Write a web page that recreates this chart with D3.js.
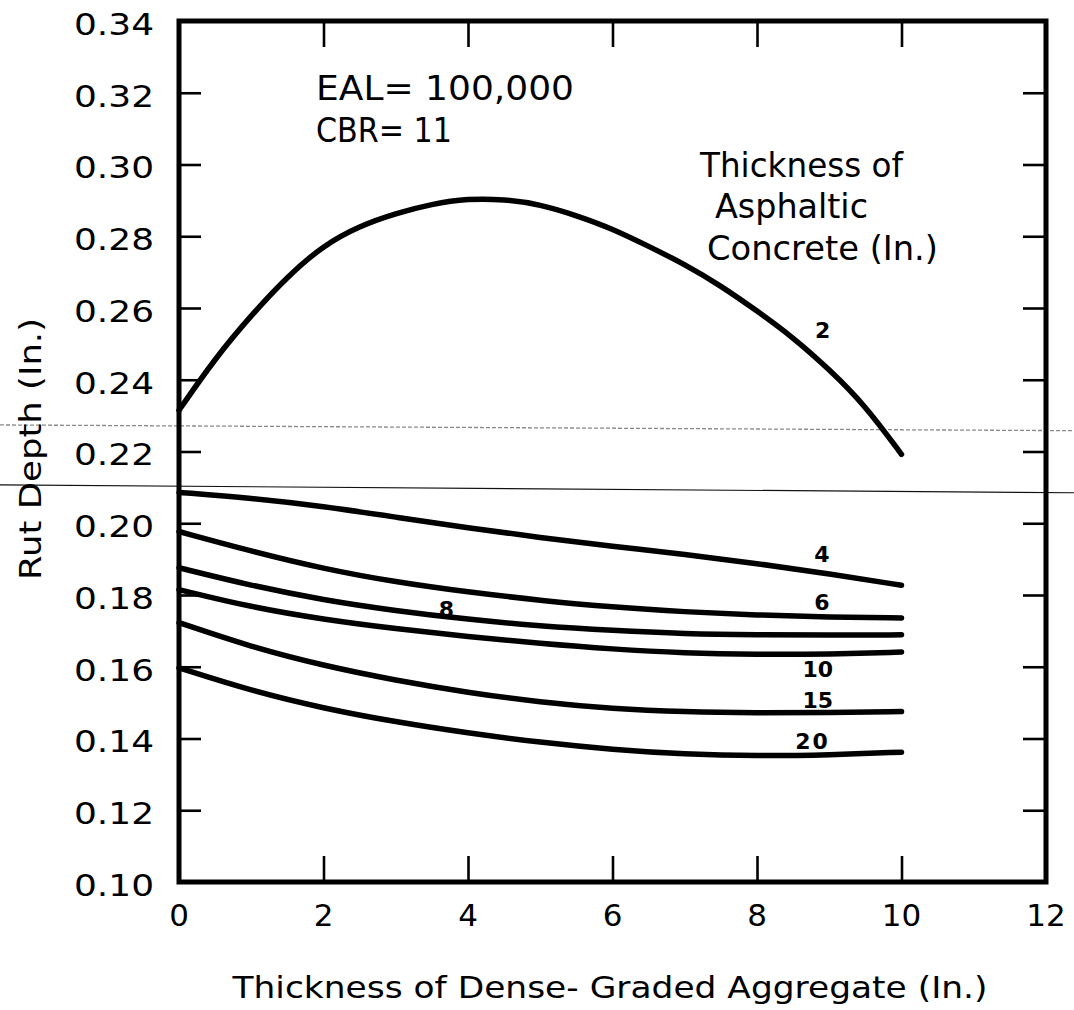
<!DOCTYPE html>
<html>
<head>
<meta charset="utf-8">
<script src="https://cdn.jsdelivr.net/npm/d3@7"></script>
<style>
  html, body { margin: 0; padding: 0; background: #ffffff; }
  svg { display: block; }
  text { font-family: "DejaVu Sans", sans-serif; fill: #000; }
</style>
</head>
<body>
<svg id="chart" width="1074" height="1010"></svg>
<script>
// ---------------- data ----------------
const xTickValues = [0, 2, 4, 6, 8, 10, 12];
const xTickLabels = ["0", "2", "4", "6", "8", "10", "12"];
const yTickValues = [0.10, 0.12, 0.14, 0.16, 0.18, 0.20, 0.22, 0.24, 0.26, 0.28, 0.30, 0.32, 0.34];
const yTickLabels = ["0.10", "0.12", "0.14", "0.16", "0.18", "0.20", "0.22", "0.24", "0.26", "0.28", "0.30", "0.32", "0.34"];

// thickness of dense-graded aggregate (in.)
const dgaHalf = [0, 0.5, 1, 1.5, 2, 2.5, 3, 3.5, 4, 4.5, 5, 5.5, 6, 6.5, 7, 7.5, 8, 8.5, 9, 9.5, 10];
const dga = [0, 1, 2, 3, 4, 5, 6, 7, 8, 9, 10];

// rut depth (in.) per asphaltic concrete thickness
const rutAC2  = [0.2315, 0.2460, 0.2580, 0.2688, 0.2775, 0.2829, 0.2864, 0.2890, 0.2905, 0.2903, 0.2889,
                 0.2858, 0.2821, 0.2772, 0.2722, 0.2662, 0.2592, 0.2518, 0.2429, 0.2328, 0.2192];
const rutAC4  = [0.2086, 0.2070, 0.2047, 0.2017, 0.1987, 0.1960, 0.1936, 0.1913, 0.1888, 0.1859, 0.1827];
const rutAC6  = [0.1977, 0.1922, 0.1873, 0.1836, 0.1808, 0.1785, 0.1766, 0.1753, 0.1744, 0.1738, 0.1736];
const rutAC8  = [0.1876, 0.1826, 0.1786, 0.1756, 0.1732, 0.1713, 0.1701, 0.1692, 0.1689, 0.1688, 0.1689];
const rutAC10 = [0.1815, 0.1766, 0.1732, 0.1706, 0.1684, 0.1665, 0.1649, 0.1638, 0.1634, 0.1635, 0.1641];
const rutAC15 = [0.1723, 0.1655, 0.1603, 0.1562, 0.1528, 0.1501, 0.1483, 0.1474, 0.1471, 0.1472, 0.1475];
const rutAC20 = [0.1597, 0.1533, 0.1484, 0.1446, 0.1415, 0.1389, 0.1369, 0.1356, 0.1351, 0.1354, 0.1362];

// curve labels (asphaltic concrete thickness) and where they sit, in data units
const acLabels = ["2", "4", "6", "8", "10", "15", "20"];
const acLabelX = [8.91, 8.90, 8.90, 3.70, 8.84, 8.84, 8.77];
const acLabelY = [0.2539, 0.1915, 0.1779, 0.1760, 0.1593, 0.1508, 0.1393];

// scan artefacts (faint lines across the page), in data units: [left y, right y]
const scanDashed = [0.2274, 0.2258];
const scanSolid  = [0.2107, 0.2085];

// ---------------- layout ----------------
const W = 1074, H = 1010;
const svg = d3.select("#chart");
const x = d3.scaleLinear().domain([0, 12]).range([179, 1046]);
const y = d3.scaleLinear().domain([0.10, 0.34]).range([882, 21]);

const series = [
  { label: acLabels[0], xs: dgaHalf, ys: rutAC2 },
  { label: acLabels[1], xs: dga, ys: rutAC4 },
  { label: acLabels[2], xs: dga, ys: rutAC6 },
  { label: acLabels[3], xs: dga, ys: rutAC8 },
  { label: acLabels[4], xs: dga, ys: rutAC10 },
  { label: acLabels[5], xs: dga, ys: rutAC15 },
  { label: acLabels[6], xs: dga, ys: rutAC20 }
];

// scan artefacts
const xLeftEdge = x.invert(0), xRightEdge = x.invert(W);
svg.append("line")
  .attr("x1", x(xLeftEdge)).attr("x2", x(xRightEdge))
  .attr("y1", y(scanDashed[0])).attr("y2", y(scanDashed[1]))
  .attr("stroke", "#8a8a8a").attr("stroke-width", 1.3).attr("stroke-dasharray", "4,2");
svg.append("line")
  .attr("x1", x(xLeftEdge)).attr("x2", x(xRightEdge))
  .attr("y1", y(scanSolid[0])).attr("y2", y(scanSolid[1]))
  .attr("stroke", "#111").attr("stroke-width", 1.2);

// axes (ticks inward)
const tickW = 2.6;
const gB = svg.append("g").attr("transform", `translate(0,${y(0.10)})`)
  .call(d3.axisBottom(x).tickValues(xTickValues.slice(1, -1)).tickSizeInner(-26).tickSizeOuter(0).tickFormat(""));
const gT = svg.append("g").attr("transform", `translate(0,${y(0.34)})`)
  .call(d3.axisTop(x).tickValues(xTickValues.slice(1, -1)).tickSizeInner(-26).tickSizeOuter(0).tickFormat(""));
const gL = svg.append("g").attr("transform", `translate(${x(0)},0)`)
  .call(d3.axisLeft(y).tickValues(yTickValues.slice(1, -1)).tickSizeInner(-22).tickSizeOuter(0).tickFormat(""));
const gR = svg.append("g").attr("transform", `translate(${x(12)},0)`)
  .call(d3.axisRight(y).tickValues(yTickValues.slice(1, -1)).tickSizeInner(-23).tickSizeOuter(0).tickFormat(""));
[gB, gT, gL, gR].forEach(g => {
  g.select(".domain").remove();
  g.selectAll(".tick line").attr("stroke", "#000").attr("stroke-width", tickW);
});

// tick labels
svg.append("g").selectAll("text").data(xTickValues).join("text")
  .attr("x", d => x(d)).attr("y", 926)
  .attr("text-anchor", "middle").attr("font-size", 31)
  .text((d, i) => xTickLabels[i]);
svg.append("g").selectAll("text").data(yTickValues).join("text")
  .attr("x", x(0) - 25).attr("y", d => y(d)).attr("dy", "0.45em")
  .attr("text-anchor", "end").attr("font-size", 31)
  .attr("textLength", 80).attr("lengthAdjust", "spacingAndGlyphs")
  .text((d, i) => yTickLabels[i]);

// frame
svg.append("rect")
  .attr("x", x(0)).attr("y", y(0.34))
  .attr("width", x(12) - x(0)).attr("height", y(0.10) - y(0.34))
  .attr("fill", "none").attr("stroke", "#000").attr("stroke-width", 5);

// curves
const line = d3.line().curve(d3.curveBasis);
svg.append("g").selectAll("path").data(series).join("path")
  .attr("d", s => line(s.xs.map((v, i) => [x(v), y(s.ys[i])])))
  .attr("fill", "none").attr("stroke", "#000").attr("stroke-width", 5.5)
  .attr("stroke-linecap", "round").attr("stroke-linejoin", "round");

// curve labels
svg.append("g").selectAll("text").data(acLabels).join("text")
  .attr("x", (d, i) => x(acLabelX[i])).attr("y", (d, i) => y(acLabelY[i]))
  .attr("dy", "0.36em").attr("text-anchor", "middle")
  .attr("font-size", 22).attr("font-weight", "bold")
  .attr("letter-spacing", (d) => d === "20" ? 2 : 0)
  .text(d => d);

// annotations
const ann = svg.append("g").attr("font-size", 33);
ann.append("text").attr("x", 316).attr("y", 100)
  .attr("textLength", 258).attr("lengthAdjust", "spacingAndGlyphs").text("EAL= 100,000");
ann.append("text").attr("x", 316).attr("y", 142)
  .attr("textLength", 136).attr("lengthAdjust", "spacingAndGlyphs").text("CBR= 11");
ann.append("text").attr("x", 700).attr("y", 177)
  .attr("textLength", 203).attr("lengthAdjust", "spacingAndGlyphs").text("Thickness of");
ann.append("text").attr("x", 715).attr("y", 218)
  .attr("textLength", 153).attr("lengthAdjust", "spacingAndGlyphs").text("Asphaltic");
ann.append("text").attr("x", 707).attr("y", 260)
  .attr("textLength", 231).attr("lengthAdjust", "spacingAndGlyphs").text("Concrete (In.)");

// axis titles
svg.append("text")
  .attr("x", 610).attr("y", 998).attr("text-anchor", "middle")
  .attr("font-size", 31).attr("textLength", 755).attr("lengthAdjust", "spacingAndGlyphs")
  .text("Thickness of Dense- Graded Aggregate (In.)");
svg.append("text")
  .attr("transform", "translate(41,449) rotate(-90)")
  .attr("text-anchor", "middle").attr("font-size", 31)
  .attr("textLength", 262).attr("lengthAdjust", "spacingAndGlyphs")
  .text("Rut Depth (In.)");
</script>
</body>
</html>
